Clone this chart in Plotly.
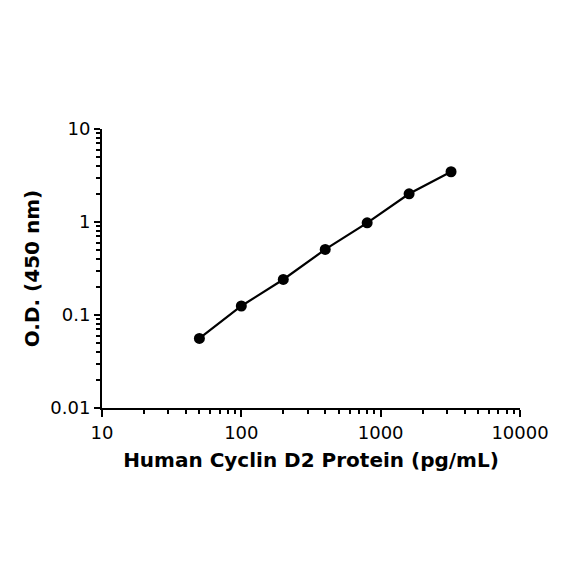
import plotly.graph_objects as go

# Standard curve data
concentration = [50, 100, 200, 400, 800, 1600, 3200]
od_450 = [0.056, 0.125, 0.241, 0.507, 0.98, 2.01, 3.47]

x_tickvals = [10, 100, 1000, 10000]
x_ticktext = ["10", "100", "1000", "10000"]
y_tickvals = [0.01, 0.1, 1, 10]
y_ticktext = ["0.01", "0.1", "1", "10"]

# minor ticks at 2..9 of each decade
x_minor = [m * d for d in [10, 100, 1000] for m in range(2, 10)]
y_minor = [m * d for d in [0.01, 0.1, 1] for m in range(2, 10)]

FONT = "DejaVu Sans, Noto Sans, sans-serif"

fig = go.Figure()
fig.add_trace(go.Scatter(
    x=concentration, y=od_450,
    mode="lines+markers",
    line=dict(color="black", width=2.2),
    marker=dict(color="black", size=11),
    showlegend=False,
))

tick_font = dict(family=FONT, size=18, color="black")
title_font = dict(family=FONT, size=20, color="black")

fig.update_xaxes(
    type="log", range=[1, 4],
    tickvals=x_tickvals, ticktext=x_ticktext,
    showline=True, linecolor="black", linewidth=2,
    ticks="outside", ticklen=7, tickwidth=2, tickcolor="black",
    minor=dict(tickvals=x_minor, ticks="outside", ticklen=4, tickwidth=1.5, tickcolor="black"),
    showgrid=False, zeroline=False,
    tickfont=tick_font,
    title=dict(text="<b>Human Cyclin D2 Protein (pg/mL)</b>", font=title_font, standoff=11),
)
fig.update_yaxes(
    type="log", range=[-2, 1],
    tickvals=y_tickvals, ticktext=y_ticktext,
    showline=True, linecolor="black", linewidth=2,
    ticks="outside", ticklen=6, tickwidth=2, tickcolor="black",
    minor=dict(tickvals=y_minor, ticks="outside", ticklen=4, tickwidth=1.5, tickcolor="black"),
    showgrid=False, zeroline=False,
    tickfont=tick_font,
    title=dict(text="<b>O.D. (450 nm)</b>", font=title_font, standoff=5),
)

fig.update_layout(
    width=584, height=584,
    margin=dict(l=94, r=72, t=121, b=184, autoexpand=False),
    plot_bgcolor="white", paper_bgcolor="white",
)

fig.write_html("out.html")
